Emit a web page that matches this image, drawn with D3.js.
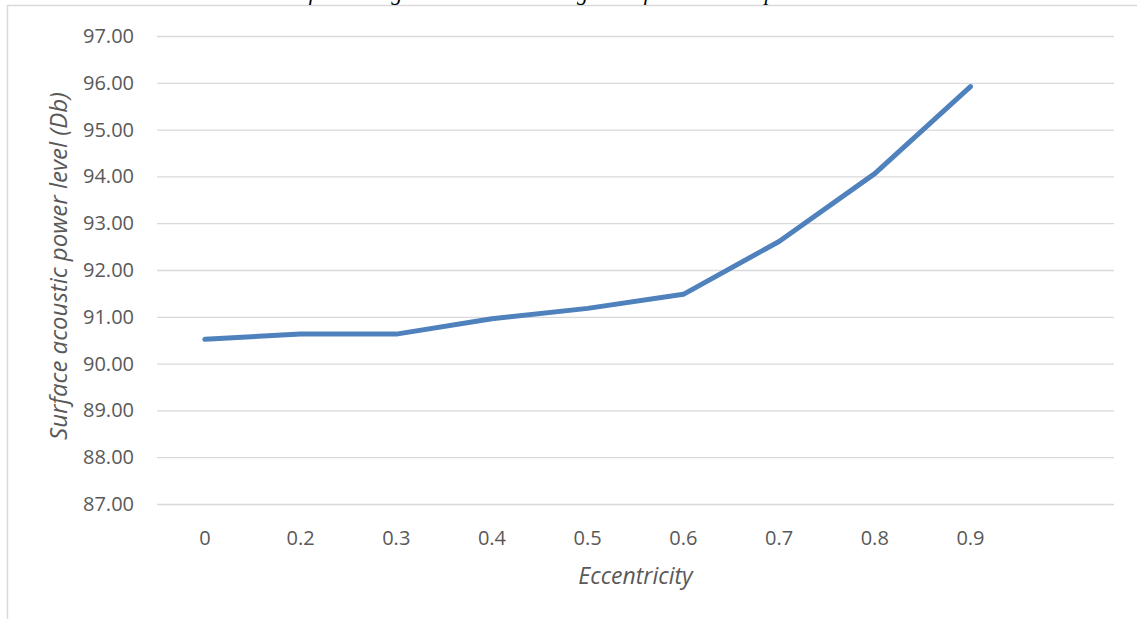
<!DOCTYPE html>
<html>
<head>
<meta charset="utf-8">
<script src="https://cdn.jsdelivr.net/npm/d3@7"></script>
<style>
  html, body { margin: 0; padding: 0; background: #ffffff; }
  svg { display: block; }
</style>
</head>
<body>
<svg id="chart" width="1137" height="619"></svg>
<script>
// Eccentricity categories (the last slot is an empty category on the axis)
const categories = ["0", "0.2", "0.3", "0.4", "0.5", "0.6", "0.7", "0.8", "0.9", ""];
// Surface acoustic power level in Db for each eccentricity
const powerLevel = [90.52, 90.63, 90.63, 90.96, 91.18, 91.48, 92.61, 94.06, 95.92];
// Value axis ticks
const yTicks = [87, 88, 89, 90, 91, 92, 93, 94, 95, 96, 97];

const title = "Grafik hubungan eksentrisitas dengan surface acoustic power level";
const xTitle = "Eccentricity";
const yTitle = "Surface acoustic power level (Db)";

const svg = d3.select("#chart");
const W = 1137, H = 619;
const plot = { left: 157, right: 1114, top: 36, bottom: 504 };

const labelFont = "'Open Sans', 'Noto Sans', sans-serif";
const textColor = "#595959";
const gridColor = "#d9d9d9";

// Chart-area frame (continues past the right and bottom edges)
svg.append("rect")
  .attr("x", 7.5).attr("y", 5.5)
  .attr("width", W + 20).attr("height", H + 20)
  .attr("fill", "none")
  .attr("stroke", gridColor)
  .attr("stroke-width", 1.5);

// Caption sitting above the frame, mostly outside the page
svg.append("text")
  .attr("x", 570).attr("y", 0)
  .attr("text-anchor", "middle")
  .attr("font-family", "'Liberation Serif', serif")
  .attr("font-style", "italic")
  .attr("font-size", 22)
  .attr("fill", "#000")
  .text(title);

const x = d3.scaleBand()
  .domain(categories)
  .range([plot.left, plot.right])
  .paddingInner(0).paddingOuter(0);

const y = d3.scaleLinear()
  .domain([87, 97])
  .range([plot.bottom, plot.top]);

// Horizontal gridlines with value labels
const yAxis = d3.axisLeft(y)
  .tickValues(yTicks)
  .tickSize(-(plot.right - plot.left))
  .tickPadding(23)
  .tickFormat(d3.format(".2f"));

const gy = svg.append("g")
  .attr("transform", `translate(${plot.left},0)`)
  .call(yAxis);
gy.select(".domain").remove();
gy.selectAll(".tick line")
  .attr("stroke", gridColor)
  .attr("stroke-width", 1.3);
gy.selectAll(".tick text")
  .attr("font-family", labelFont)
  .attr("font-size", 20)
  .attr("fill", textColor);

// Category axis labels
const xAxis = d3.axisBottom(x)
  .tickSize(0)
  .tickPadding(27);
const gx = svg.append("g")
  .attr("transform", `translate(0,${plot.bottom})`)
  .call(xAxis);
gx.select(".domain").remove();
gx.selectAll(".tick text")
  .attr("font-family", labelFont)
  .attr("font-size", 20)
  .attr("fill", textColor);

// Data line
const line = d3.line()
  .x((d, i) => x(categories[i]) + x.bandwidth() / 2)
  .y(d => y(d));

svg.append("path")
  .datum(powerLevel)
  .attr("d", line)
  .attr("fill", "none")
  .attr("stroke", "#4f81bd")
  .attr("stroke-width", 5)
  .attr("stroke-linecap", "round")
  .attr("stroke-linejoin", "round");

// Axis titles
svg.append("text")
  .attr("x", (plot.left + plot.right) / 2)
  .attr("y", 584)
  .attr("text-anchor", "middle")
  .attr("font-family", labelFont)
  .attr("font-style", "italic")
  .attr("font-size", 23)
  .attr("fill", textColor)
  .text(xTitle);

svg.append("text")
  .attr("transform", `translate(67,${(plot.top + plot.bottom) / 2 - 4}) rotate(-90)`)
  .attr("text-anchor", "middle")
  .attr("font-family", labelFont)
  .attr("font-style", "italic")
  .attr("font-size", 24)
  .attr("fill", textColor)
  .text(yTitle);
</script>
</body>
</html>
